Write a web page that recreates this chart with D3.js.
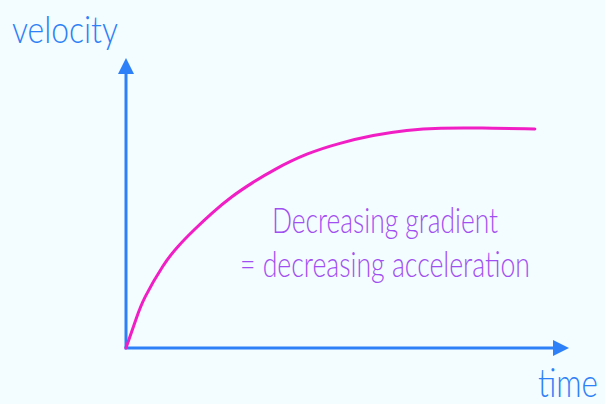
<html>
<head>
    <title>Velocity time</title>
    <style>
        body { margin: 0; background: #f3fcfe; }
        #chart { width: 605px; height: 404px; }
        text { font-family: Lato, "Open Sans", sans-serif; font-weight: 300; }
    </style>
</head>
<body>
<div id="chart"></div>
<script src="https://d3js.org/d3.v7.min.js"></script>
<script>

  const width = 605;
  const height = 404;

  // curve (time and velocity as % of axis length)
  const time     = [0, 2.5, 3.8, 8.6, 11.5, 15.3, 19.4, 23.7, 28.4, 33.2, 40.9, 48.3, 55.8, 63.4, 70.9, 79.9, 92.3];
  const velocity = [0, 11.0, 16.6, 29.3, 34.8, 40.7, 46.6, 52.1, 56.9, 61.4, 67.2, 70.7, 73.4, 75.2, 75.9, 75.9, 75.5];
  const data = time.map((t, i) => ({t, v: velocity[i]}));

  const xLabel = 'time';
  const yLabel = 'velocity';
  const note = ['Decreasing gradient', '= decreasing acceleration'];

  const svg = d3.select('#chart')
    .append('svg')
    .attr('width', width)
    .attr('height', height);

  svg.append('rect').attr('width', width).attr('height', height).attr('fill', '#f3fcfe');

  const x = d3.scaleLinear().domain([0, 100]).range([126, 569]);
  const y = d3.scaleLinear().domain([0, 100]).range([348, 58]);

  const blue = '#2d80f7';

  // axes: plain lines with arrowheads
  svg.append('line')
    .attr('x1', x(0)).attr('y1', y(0))
    .attr('x2', x(0)).attr('y2', y(100) + 14)
    .attr('stroke', blue).attr('stroke-width', 3);
  svg.append('line')
    .attr('x1', x(0) - 1.5).attr('y1', y(0))
    .attr('x2', x(100) - 14).attr('y2', y(0))
    .attr('stroke', blue).attr('stroke-width', 3);

  svg.append('path')
    .attr('d', `M${x(0)},${y(100)} L${x(0) - 8},${y(100) + 16} L${x(0) + 8},${y(100) + 16} Z`)
    .attr('fill', blue);
  svg.append('path')
    .attr('d', `M${x(100)},${y(0)} L${x(100) - 16},${y(0) - 8} L${x(100) - 16},${y(0) + 8} Z`)
    .attr('fill', blue);

  // curve
  const line = d3.line()
    .x(d => x(d.t))
    .y(d => y(d.v))
    .curve(d3.curveBasis);

  svg.append('path')
    .datum(data)
    .attr('d', line)
    .attr('fill', 'none')
    .attr('stroke', '#f01ec4')
    .attr('stroke-width', 3)
    .attr('stroke-linecap', 'round');

  // labels
  svg.append('text')
    .attr('x', 12).attr('y', 43)
    .attr('font-size', 38)
    .attr('textLength', 106).attr('lengthAdjust', 'spacingAndGlyphs')
    .attr('fill', blue)
    .text(yLabel);

  svg.append('text')
    .attr('x', 538).attr('y', 397)
    .attr('font-size', 40)
    .attr('textLength', 60).attr('lengthAdjust', 'spacingAndGlyphs')
    .attr('fill', blue)
    .text(xLabel);

  const noteLens = [226, 290];
  const noteY = [233, 277];
  svg.selectAll('text.note')
    .data(note)
    .join('text')
    .attr('class', 'note')
    .attr('x', (d, i) => 385 - noteLens[i] / 2)
    .attr('y', (d, i) => noteY[i])
    .attr('font-size', 36)
    .attr('textLength', (d, i) => noteLens[i])
    .attr('lengthAdjust', 'spacingAndGlyphs')
    .attr('fill', '#a24ff2')
    .text(d => d);

</script>
</body>
</html>
